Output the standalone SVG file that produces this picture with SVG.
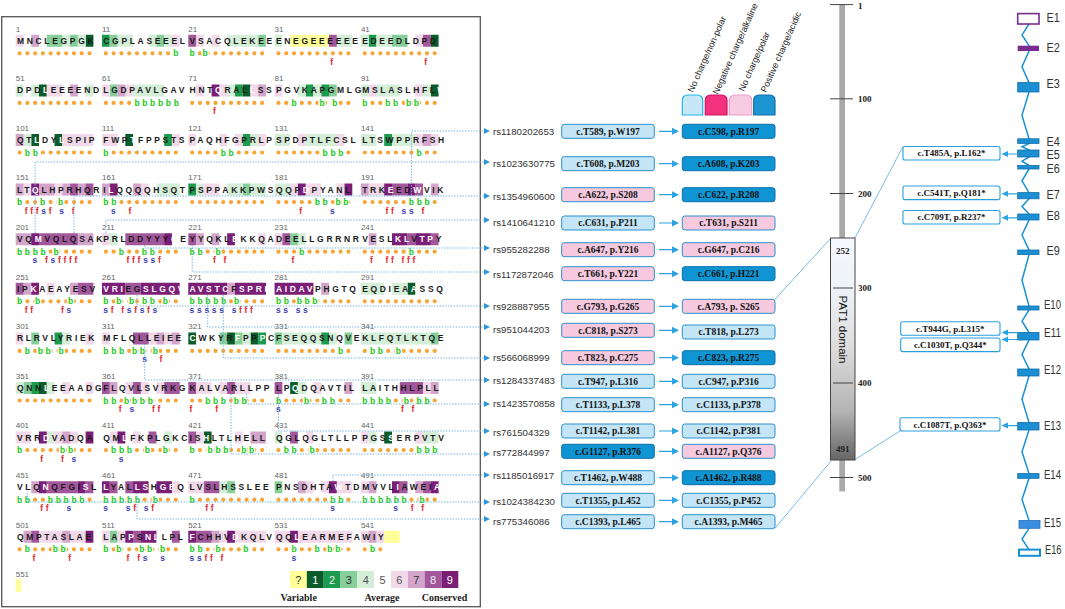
<svg xmlns="http://www.w3.org/2000/svg" width="1065" height="609" viewBox="0 0 1065 609">
<style>
text{font-family:"Liberation Sans",Arial,sans-serif}
.pn{font-family:"Liberation Mono",monospace;font-size:8px;fill:#666}
.r,.b,.f{font-family:"Liberation Mono",monospace;font-size:8.5px;font-weight:bold;letter-spacing:2.67px}
.r{fill:#1a1a1a}
.w{fill:#fff}
.b{fill:#19c919;stroke:#fff;stroke-width:3px;paint-order:stroke;stroke-linejoin:round}
.f{fill:#e3262b}
.s{fill:#3c3cb4}
.cg path{fill:none;stroke-width:.2419}
.g0{stroke:#ffff99}.g1{stroke:#0b5c2a}.g2{stroke:#1c9a4d}.g3{stroke:#86cf9b}.g4{stroke:#d4eed8}
.g6{stroke:#f1d9ea}.g7{stroke:#d3a5cb}.g8{stroke:#a2579c}.g9{stroke:#7a1e76}
.dots{fill:none;stroke:#f7a534;stroke-width:4.2;stroke-linecap:round;stroke-dasharray:0 7.77 0 7.77 0 7.77 0 7.77 0 7.77 0 7.77 0 7.77 0 7.77 0 7.77 0 16.37}
.con{fill:none;stroke:#72b3e1;stroke-width:1;stroke-dasharray:1.4 1.4}
.ah{fill:#2d95d8}
.rs{font-size:9.7px;fill:#333}
.bx{font-family:"Liberation Serif",serif;font-weight:bold;font-size:9.5px;text-anchor:middle;fill:#111}
.lb{fill:#c3e5f6;stroke:#2b8fcc;stroke-width:1}
.pk{fill:#f6c9df;stroke:#2b8fcc;stroke-width:1}
.db{fill:#0f95d4;stroke:#0b6ea8;stroke-width:1}
.sa{stroke:#2aa3e0;stroke-width:1.2;fill:none}
.saf{fill:#2aa3e0}
.ct{font-size:9px;fill:#222}
.tk{font-family:"Liberation Serif",serif;font-weight:bold;font-size:9px;fill:#222}
.nb{fill:#fff;stroke:#2a9fdc;stroke-width:1.1}
.nt{font-family:"Liberation Serif",serif;font-weight:bold;font-size:9px;text-anchor:middle;fill:#111}
.ex{fill:#1b8fd2;stroke:#136fa8;stroke-width:.8}
.el{font-size:12px;fill:#333}
.lg{font-size:11px;text-anchor:middle}
.lt{font-family:"Liberation Serif",serif;font-weight:bold;font-size:10px;text-anchor:middle;fill:#222}
</style>
<defs>
<linearGradient id="pg" x1="0" y1="0" x2="0" y2="1">
<stop offset="0" stop-color="#f6f9fd"/><stop offset=".22" stop-color="#eef3f8"/><stop offset=".5" stop-color="#dcdcdc"/><stop offset=".78" stop-color="#b4b4b4"/><stop offset="1" stop-color="#666"/>
</linearGradient>
</defs>
<rect width="1065" height="609" fill="#fff"/>

<g id="alignment">
<rect x="1.7" y="16.7" width="478.6" height="590" fill="none" stroke="#555" stroke-width="1.3"/>
<g id="cells" class="cg">
<g transform="translate(15.7 40.8) scale(7.77 49.6)">
<path class="g1" d="M9 0h1M3 1h1M2 2h1M5 2h1M3 7h1"/>
<path class="g2" d="M5 6h1M2 7h1"/>
<path class="g3" d="M4 0h2M7 0h1M2 6h1M1 7h1"/>
<path class="g4" d="M6 0h1M8 0h1M0 1h1M2 1h1M9 1h1M1 2h1M6 6h1M0 7h1M4 7h1M4 8h1"/>
<path class="g6" d="M0 0h1M4 1h2M6 2h4M1 3h1M5 3h1M4 5h1M0 6h1M9 6h1M6 7h1M9 7h1M0 8h2M5 8h1M7 8h1M3 10h3M7 10h2"/>
<path class="g7" d="M2 0h1M7 1h1M0 2h1M0 3h1M3 3h2M6 3h1M8 3h1M0 4h2M8 4h2M1 5h1M7 5h1M6 8h1M2 9h1M1 10h1M6 10h1"/>
<path class="g8" d="M7 3h1M9 3h1M3 4h5M0 5h1M8 5h2M4 9h4M9 9h1M2 10h1"/>
<path class="g9" d="M2 3h1M2 4h1M2 5h1M3 8h1M9 8h1M3 9h1M8 9h1M9 10h1"/>
</g>
<g transform="translate(102 40.8) scale(7.77 49.6)">
<path class="g1" d="M3 2h1"/>
<path class="g2" d="M0 0h1M8 2h1"/>
<path class="g3" d="M1 0h1M7 0h1M1 1h1M1 10h1"/>
<path class="g4" d="M2 0h2M6 0h1M8 0h1M4 1h4M7 3h3M1 4h1M8 8h1"/>
<path class="g6" d="M9 0h1M0 1h1M3 1h1M0 2h2M9 2h1M5 3h1M0 4h1M0 6h1M6 6h1M8 6h1M3 7h1M5 7h1M7 7h1M1 8h1M4 8h1M9 9h1M0 10h1M2 10h1"/>
<path class="g7" d="M2 1h1M0 3h1M4 3h1M7 6h1M9 6h1M1 7h1"/>
<path class="g8" d="M3 4h5M3 5h2M4 6h2M0 7h1M4 7h1M8 7h2M6 8h1M1 9h1M3 9h1M4 10h1M9 10h1"/>
<path class="g9" d="M1 3h1M8 4h1M0 5h3M5 5h5M2 8h1M0 9h1M4 9h2M7 9h2M3 10h1M5 10h2"/>
</g>
<g transform="translate(188.3 40.8) scale(7.77 49.6)">
<path class="g1" d="M7 1h1M0 6h1M5 6h1M8 6h1M2 8h1"/>
<path class="g2" d="M6 1h1M7 2h1M0 3h1M9 6h1"/>
<path class="g3" d="M9 0h1M7 3h1M4 6h1M6 6h1M5 9h1"/>
<path class="g4" d="M5 0h4M5 1h1M8 2h1M1 3h1M5 3h2M8 3h2M7 6h1M4 9h1"/>
<path class="g6" d="M1 0h1M3 0h1M1 1h1M4 1h1M8 1h1M0 2h1M4 2h1M6 2h1M9 2h1M2 3h2M9 4h1M1 7h2M4 7h1M6 7h2M1 8h1M6 8h1M0 9h2M4 10h1M6 10h4"/>
<path class="g7" d="M9 1h1M1 4h1M3 4h1M5 5h1M8 8h2M3 10h1"/>
<path class="g8" d="M0 0h1M0 4h1M0 7h1M5 7h1M0 8h1M2 9h2M1 10h2"/>
<path class="g9" d="M3 1h1M5 4h1M0 5h5M6 5h4M0 10h1M5 10h1"/>
</g>
<g transform="translate(274.6 40.8) scale(7.77 49.6)">
<path class="g0" d="M2 0h5"/>
<path class="g1" d="M2 7h1"/>
<path class="g2" d="M4 1h1M6 1h1M6 6h1"/>
<path class="g3" d="M7 1h1M2 4h1M0 6h1M9 6h1M0 9h1"/>
<path class="g4" d="M0 0h1M8 0h2M3 1h1M5 1h1M0 2h2M4 2h4M0 3h2M3 4h1M1 6h5M7 6h1M3 7h1M0 8h1"/>
<path class="g6" d="M0 1h1M3 2h1M8 2h1M2 3h1M4 3h2M8 3h1M0 4h1M5 7h1M4 8h1M4 9h1M6 9h1M8 9h2M0 10h2M3 10h7"/>
<path class="g7" d="M6 5h1M9 7h1M3 9h1"/>
<path class="g8" d="M7 0h1M1 4h1M0 7h1M2 8h1"/>
<path class="g9" d="M3 3h1M9 3h1M0 5h5M7 9h1M2 10h1"/>
</g>
<g transform="translate(360.9 40.8) scale(7.77 49.6)">
<path class="g0" d="M3 10h2"/>
<path class="g1" d="M9 0h1M9 1h1M6 5h1M3 8h1"/>
<path class="g2" d="M1 0h1M3 2h1"/>
<path class="g3" d="M4 0h2M9 6h1"/>
<path class="g4" d="M0 0h1M2 0h2M0 1h1M2 1h3M8 1h1M0 2h2M4 2h3M0 5h3M4 5h2M0 6h9M0 7h2M1 8h1M8 8h2"/>
<path class="g6" d="M7 0h1M1 1h1M7 1h1M7 2h1M9 2h1M1 3h2M8 7h1M0 8h1M7 8h1M0 9h1M0 10h1M2 10h1"/>
<path class="g7" d="M8 2h1M0 3h1M9 3h1M1 4h1M9 7h1M1 9h1M7 9h1M1 10h1"/>
<path class="g8" d="M8 0h1M4 3h2M7 3h1M6 4h1M9 4h1M5 7h3M5 9h1M8 9h1"/>
<path class="g9" d="M3 3h1M6 3h1M4 4h2M7 4h2M4 9h1M9 9h1"/>
</g>
<rect x="15.7" y="579" width="5.5" height="13" fill="#ffff99"/>
</g>

<g id="numbers" class="pn">
<text x="15.7" y="31.5">1</text><text x="102" y="31.5">11</text><text x="188.3" y="31.5">21</text><text x="274.6" y="31.5">31</text><text x="360.9" y="31.5">41</text>
<text x="15.7" y="81.1">51</text><text x="102" y="81.1">61</text><text x="188.3" y="81.1">71</text><text x="274.6" y="81.1">81</text><text x="360.9" y="81.1">91</text>
<text x="15.7" y="130.7">101</text><text x="102" y="130.7">111</text><text x="188.3" y="130.7">121</text><text x="274.6" y="130.7">131</text><text x="360.9" y="130.7">141</text>
<text x="15.7" y="180.3">151</text><text x="102" y="180.3">161</text><text x="188.3" y="180.3">171</text><text x="274.6" y="180.3">181</text><text x="360.9" y="180.3">191</text>
<text x="15.7" y="229.9">201</text><text x="102" y="229.9">211</text><text x="188.3" y="229.9">221</text><text x="274.6" y="229.9">231</text><text x="360.9" y="229.9">241</text>
<text x="15.7" y="279.5">251</text><text x="102" y="279.5">261</text><text x="188.3" y="279.5">271</text><text x="274.6" y="279.5">281</text><text x="360.9" y="279.5">291</text>
<text x="15.7" y="329.1">301</text><text x="102" y="329.1">311</text><text x="188.3" y="329.1">321</text><text x="274.6" y="329.1">331</text><text x="360.9" y="329.1">341</text>
<text x="15.7" y="378.7">351</text><text x="102" y="378.7">361</text><text x="188.3" y="378.7">371</text><text x="274.6" y="378.7">381</text><text x="360.9" y="378.7">391</text>
<text x="15.7" y="428.3">401</text><text x="102" y="428.3">411</text><text x="188.3" y="428.3">421</text><text x="274.6" y="428.3">431</text><text x="360.9" y="428.3">441</text>
<text x="15.7" y="477.9">451</text><text x="102" y="477.9">461</text><text x="188.3" y="477.9">471</text><text x="274.6" y="477.9">481</text><text x="360.9" y="477.9">491</text>
<text x="15.7" y="527.5">501</text><text x="102" y="527.5">511</text><text x="188.3" y="527.5">521</text><text x="274.6" y="527.5">531</text><text x="360.9" y="527.5">541</text>
<text x="15.7" y="577.1">551</text>
</g>

<g id="residues" class="r">
<text x="17" y="43.8">MNCLEGPGK<tspan class="w">T</tspan></text><text x="103.3" y="43.8">CGPLASEEEL</text><text x="189.6" y="43.8">VSACQLEKEE</text><text x="275.9" y="43.8">ENEGEEEEEE</text><text x="362.2" y="43.8">EDEEDLDPD<tspan class="w">L</tspan></text>
<text x="17" y="93.4">DPD<tspan class="w">L</tspan>EEEEND</text><text x="103.3" y="93.4">LGDPAVLGAV</text><text x="189.6" y="93.4">HNT<tspan class="w">Q</tspan>RAL<tspan class="w">L</tspan>SS</text><text x="275.9" y="93.4">PGVKAPGMLG</text><text x="362.2" y="93.4">MSLASLHFL<tspan class="w">W</tspan></text>
<text x="17" y="143">QT<tspan class="w">L</tspan>DY<tspan class="w">L</tspan>SPIP</text><text x="103.3" y="143">FWP<tspan class="w">T</tspan>FPPSTS</text><text x="189.6" y="143">PAQHFGPRLP</text><text x="275.9" y="143">SPDPTLFCSL</text><text x="362.2" y="143">LTSWPPRFSH</text>
<text x="17" y="192.6">LT<tspan class="w">Q</tspan>LHPRHQR</text><text x="103.3" y="192.6">I<tspan class="w">L</tspan>QQQQHSQT</text><text x="189.6" y="192.6">PSPPAKKPWS</text><text x="275.9" y="192.6">QQP<tspan class="w">D</tspan>PYANL<tspan class="w">M</tspan></text><text x="362.2" y="192.6">TRK<tspan class="w">E</tspan>ED<tspan class="w">W</tspan>VIK</text>
<text x="17" y="242.2">VQ<tspan class="w">M</tspan>VQLQSAK</text><text x="103.3" y="242.2">PRLDDYYY<tspan class="w">Q</tspan>E</text><text x="189.6" y="242.2">YYQKL<tspan class="w">E</tspan>KKQA</text><text x="275.9" y="242.2">DEELLGRRNR</text><text x="362.2" y="242.2">VESL<tspan class="w">KL</tspan>V<tspan class="w">TP</tspan>Y</text>
<text x="17" y="291.8">IP<tspan class="w">K</tspan>AEAYESV</text><text x="103.3" y="291.8"><tspan class="w">VRI</tspan>EG<tspan class="w">SLGQV</tspan></text><text x="189.6" y="291.8"><tspan class="w">AVSTC</tspan>F<tspan class="w">SPRR</tspan></text><text x="275.9" y="291.8"><tspan class="w">AIDAV</tspan>PHGTQ</text><text x="362.2" y="291.8">EQDIEA<tspan class="w">A</tspan>SSQ</text>
<text x="17" y="341.4">RLRVLYRIEK</text><text x="103.3" y="341.4">MFLQLLEIEE</text><text x="189.6" y="341.4"><tspan class="w">C</tspan>WKYR<tspan class="w">F</tspan>PP<tspan class="w">P</tspan>C</text><text x="275.9" y="341.4">FSEQQSNQVE</text><text x="362.2" y="341.4">KLFQTLKTQE</text>
<text x="17" y="391">QNN<tspan class="w">L</tspan>EEAADG</text><text x="103.3" y="391">FLQVLSVRKG</text><text x="189.6" y="391">KALVARLLPP</text><text x="275.9" y="391">LP<tspan class="w">Q</tspan>DQAVTIL</text><text x="362.2" y="391">LAITHHLPLL</text>
<text x="17" y="440.6">VRR<tspan class="w">D</tspan>VADQA<tspan class="w">L</tspan></text><text x="103.3" y="440.6">QM<tspan class="w">L</tspan>FKPLGKC</text><text x="189.6" y="440.6">IS<tspan class="w">H</tspan>LTLHELL</text><text x="275.9" y="440.6">QGLQGLTLLP</text><text x="362.2" y="440.6">PGS<tspan class="w">S</tspan>ERPVTV</text>
<text x="17" y="490.2">VLQ<tspan class="w">N</tspan>QFGI<tspan class="w">S</tspan>L</text><text x="103.3" y="490.2"><tspan class="w">L</tspan>YAL<tspan class="w">LS</tspan>H<tspan class="w">GE</tspan>Q</text><text x="189.6" y="490.2">LVSLHSSLEE</text><text x="275.9" y="490.2">PNSDHTA<tspan class="w">W</tspan>TD</text><text x="362.2" y="490.2">MVVL<tspan class="w">I</tspan>AWEI<tspan class="w">A</tspan></text>
<text x="17" y="539.8">QMPTASLAE<tspan class="w">P</tspan></text><text x="103.3" y="539.8">LAP<tspan class="w">P</tspan>S<tspan class="w">NL</tspan>LPL</text><text x="189.6" y="539.8"><tspan class="w">F</tspan>CHHV<tspan class="w">D</tspan>KQLV</text><text x="275.9" y="539.8">QQ<tspan class="w">L</tspan>EARMEFA</text><text x="362.2" y="539.8">WIY</text>
</g>

<path id="dots" class="dots" d="M19.585 53.3h415.2M19.585 102.9h415.2M19.585 152.5h415.2M19.585 202.1h415.2M19.585 251.7h415.2M19.585 301.3h415.2M19.585 350.9h415.2M19.585 400.5h415.2M19.585 450.1h415.2M19.585 499.7h415.2M19.585 549.3h360.8"/>

<g id="buried" class="b">
<text x="173.23" y="56.3">b</text><text x="189.6" y="56.3">b&#160;b</text>
<text x="134.38" y="105.9">bbbbbb</text><text x="291.44" y="105.9">b&#160;&#160;&#160;&#160;b&#160;b</text><text x="362.2" y="105.9">b&#160;&#160;&#160;bb&#160;bb</text>
<text x="24.77" y="155.5">bb</text><text x="103.3" y="155.5">b</text><text x="220.68" y="155.5">bb</text><text x="322.52" y="155.5">bbb</text><text x="416.59" y="155.5">b</text>
<text x="17" y="205.1">b&#160;&#160;&#160;b&#160;&#160;b</text><text x="103.3" y="205.1">bb</text><text x="314.75" y="205.1">bb&#160;bb</text><text x="408.82" y="205.1">bbb</text>
<text x="17" y="254.7">bbbb&#160;b</text><text x="118.84" y="254.7">b&#160;&#160;&#160;bb</text><text x="189.6" y="254.7">bb&#160;&#160;b</text><text x="299.21" y="254.7">b</text><text x="408.82" y="254.7">b</text>
<text x="17" y="304.3">b&#160;&#160;b&#160;&#160;&#160;&#160;&#160;b</text><text x="103.3" y="304.3">b&#160;b&#160;b&#160;bb&#160;b</text><text x="189.6" y="304.3">bbbbb&#160;b</text><text x="275.9" y="304.3">bb&#160;bbb</text>
<text x="24.77" y="353.9">b&#160;bb&#160;b</text><text x="103.3" y="353.9">bbb&#160;bb&#160;b</text><text x="338.06" y="353.9">b</text><text x="369.97" y="353.9">bb&#160;&#160;b</text>
<text x="103.3" y="403.5">bb&#160;bbbb</text><text x="205.14" y="403.5">bbb&#160;bb</text><text x="275.9" y="403.5">b&#160;&#160;&#160;&#160;b&#160;&#160;bb</text><text x="362.2" y="403.5">bbbb&#160;&#160;b&#160;bb</text>
<text x="17" y="453.1">b&#160;&#160;&#160;&#160;&#160;&#160;&#160;bb</text><text x="111.07" y="453.1">bbb&#160;&#160;b&#160;&#160;b</text><text x="189.6" y="453.1">b&#160;&#160;bbb&#160;&#160;bb</text><text x="283.67" y="453.1">bb&#160;&#160;b</text><text x="416.59" y="453.1">bbb</text>
<text x="17" y="502.7">bb&#160;&#160;&#160;bbbbb</text><text x="103.3" y="502.7">bbbbb&#160;&#160;b</text><text x="189.6" y="502.7">b</text><text x="330.29" y="502.7">bb</text><text x="362.2" y="502.7">bbbbbb&#160;&#160;b</text>
<text x="24.77" y="552.3">b&#160;&#160;&#160;&#160;bb</text><text x="103.3" y="552.3">b&#160;b&#160;&#160;&#160;bb&#160;b</text><text x="189.6" y="552.3">bb&#160;&#160;b&#160;&#160;&#160;&#160;b</text><text x="291.44" y="552.3">b&#160;&#160;&#160;b&#160;bb</text><text x="369.97" y="552.3">b</text>
</g>

<g id="fs" class="f">
<text x="330.29" y="64.8">f</text><text x="424.36" y="64.8">f</text>
<text x="212.91" y="114.4">f</text>
<text x="24.77" y="213.6">fff<tspan class="s">s</tspan>f&#160;<tspan class="s">s</tspan>&#160;f</text><text x="111.07" y="213.6"><tspan class="s">s</tspan>&#160;&#160;f</text><text x="299.21" y="213.6">f&#160;&#160;&#160;&#160;&#160;<tspan class="s">s</tspan></text><text x="385.51" y="213.6">ff&#160;<tspan class="s">ss</tspan>&#160;f</text>
<text x="32.54" y="263.2"><tspan class="s">s</tspan>&#160;f<tspan class="s">s</tspan>ffff</text><text x="126.61" y="263.2">fff<tspan class="s">ss</tspan>f</text><text x="212.91" y="263.2">f&#160;f</text><text x="291.44" y="263.2">f</text><text x="369.97" y="263.2">f&#160;&#160;ff&#160;fff</text>
<text x="24.77" y="312.8">ff&#160;&#160;&#160;&#160;&#160;f<tspan class="s">s</tspan></text><text x="103.3" y="312.8"><tspan class="s">s</tspan>f&#160;f<tspan class="s">s</tspan>f<tspan class="s">s</tspan>f<tspan class="s">s</tspan></text><text x="189.6" y="312.8"><tspan class="s">sssss</tspan>&#160;<tspan class="s">s</tspan>fff</text><text x="275.9" y="312.8"><tspan class="s">ss&#160;ss</tspan></text>
<text x="142.15" y="362.4"><tspan class="s">s</tspan>&#160;&#160;f</text>
<text x="118.84" y="412">f&#160;<tspan class="s">s</tspan>&#160;&#160;&#160;ff</text><text x="189.6" y="412">f&#160;&#160;&#160;&#160;f</text><text x="275.9" y="412"><tspan class="s">s</tspan></text><text x="401.05" y="412">f&#160;f</text>
<text x="40.31" y="461.6">f&#160;&#160;&#160;f&#160;<tspan class="s">s</tspan></text><text x="118.84" y="461.6"><tspan class="s">s</tspan></text>
<text x="40.31" y="511.2">ff&#160;&#160;&#160;<tspan class="s">s</tspan></text><text x="103.3" y="511.2"><tspan class="s">s</tspan>&#160;&#160;&#160;<tspan class="s">s</tspan>f&#160;<tspan class="s">s</tspan>f</text><text x="205.14" y="511.2">ff</text><text x="330.29" y="511.2"><tspan class="s">s</tspan></text><text x="393.28" y="511.2"><tspan class="s">s</tspan>&#160;&#160;f&#160;f</text>
<text x="32.54" y="560.8">f&#160;&#160;&#160;&#160;&#160;&#160;f</text><text x="126.61" y="560.8">f&#160;f<tspan class="s">s</tspan>&#160;&#160;<tspan class="s">s</tspan></text><text x="189.6" y="560.8"><tspan class="s">ss</tspan>ff&#160;f</text><text x="291.44" y="560.8"><tspan class="s">s</tspan></text>
</g>

<g id="legend">
<rect x="290" y="571" width="16.83" height="17" fill="#ffff99"/>
<rect x="306.83" y="571" width="16.83" height="17" fill="#0b5c2a"/>
<rect x="323.66" y="571" width="16.83" height="17" fill="#1c9a4d"/>
<rect x="340.49" y="571" width="16.83" height="17" fill="#86cf9b"/>
<rect x="357.32" y="571" width="16.83" height="17" fill="#d4eed8"/>
<rect x="374.15" y="571" width="16.83" height="17" fill="#fff"/>
<rect x="390.98" y="571" width="16.83" height="17" fill="#f1d9ea"/>
<rect x="407.81" y="571" width="16.83" height="17" fill="#d3a5cb"/>
<rect x="424.64" y="571" width="16.83" height="17" fill="#a2579c"/>
<rect x="441.47" y="571" width="16.83" height="17" fill="#7a1e76"/>
<text class="lg" x="298.4" y="583.8" fill="#333">?</text>
<text class="lg" x="315.2" y="583.8" fill="#fff">1</text>
<text class="lg" x="332.1" y="583.8" fill="#eee">2</text>
<text class="lg" x="348.9" y="583.8" fill="#333">3</text>
<text class="lg" x="365.7" y="583.8" fill="#555">4</text>
<text class="lg" x="382.6" y="583.8" fill="#555">5</text>
<text class="lg" x="399.4" y="583.8" fill="#555">6</text>
<text class="lg" x="416.2" y="583.8" fill="#333">7</text>
<text class="lg" x="433.1" y="583.8" fill="#eee">8</text>
<text class="lg" x="449.9" y="583.8" fill="#fff">9</text>
<text class="lt" x="298.7" y="601">Variable</text>
<text class="lt" x="382" y="601">Average</text>
<text class="lt" x="444.5" y="601">Conserved</text>
</g>
</g>

<g id="connectors">
<path class="con" d="M411.4 195V131H484M35.1 233V162H484M74 233V196H484M105.9 233V220H484M144.7 245V248H484M192.2 245V272H484M137 295V306H484M207.7 295V327H484M223.3 295V358H484M144.7 344V380H484M246.6 394V404H484M278.5 394V431H484M231 394V454H484M332.9 481V475H484M27.4 493V502H484M137 493V519H484"/>
<path class="ah" d="M484 128l6 3-6 3zM484 159l6 3-6 3zM484 193l6 3-6 3zM484 217l6 3-6 3zM484 245l6 3-6 3zM484 269l6 3-6 3zM484 303l6 3-6 3zM484 324l6 3-6 3zM484 355l6 3-6 3zM484 377l6 3-6 3zM484 401l6 3-6 3zM484 428l6 3-6 3zM484 451l6 3-6 3zM484 472l6 3-6 3zM484 499l6 3-6 3zM484 516l6 3-6 3z"/>
<path class="sa" d="M659 131.3H673M659 163.7H673M659 194.7H673M659 223H673M659 249.7H673M659 273.7H673M659 306.3H673M659 330.3H673M659 357.7H673M659 381.3H673M659 404.7H673M659 431H673M659 451.3H673M659 477.7H673M659 500.3H673M659 521.7H673"/>
<path class="saf" d="M672 127.8l7 3.5-7 3.5zM672 160.2l7 3.5-7 3.5zM672 191.2l7 3.5-7 3.5zM672 219.5l7 3.5-7 3.5zM672 246.2l7 3.5-7 3.5zM672 270.2l7 3.5-7 3.5zM672 302.8l7 3.5-7 3.5zM672 326.8l7 3.5-7 3.5zM672 354.2l7 3.5-7 3.5zM672 377.8l7 3.5-7 3.5zM672 401.2l7 3.5-7 3.5zM672 427.5l7 3.5-7 3.5zM672 447.8l7 3.5-7 3.5zM672 474.2l7 3.5-7 3.5zM672 496.8l7 3.5-7 3.5zM672 518.2l7 3.5-7 3.5z"/>
<path fill="none" stroke="#6ab3e3" stroke-width=".9" d="M775 299.3L831 238M775 528.3L831 461M855 238L903 146.5M855 459.5L900 431"/>
<path class="sa" d="M1017 154H1007M1017 193.8H1007M1017 217.8H1007M1017 332.6H1007M1017 339.5H1007M1017 425.6H1007"/>
<path class="saf" d="M1001.5 154l6.5-3v6zM1001.5 193.8l6.5-3v6zM1001.5 217.8l6.5-3v6zM1001.5 332.6l6.5-3v6zM1001.5 339.5l6.5-3v6zM1001.5 425.6l6.5-3v6z"/>
</g>

<g id="charge-legend">
<path d="M682.3 115V100a5 5 0 0 1 5-5H697.7a5 5 0 0 1 5 5V115Z" fill="#c5e7f7" stroke="#22b5ec" stroke-width="1.2"/>
<path d="M705.3 115V100a5 5 0 0 1 5-5H722a5 5 0 0 1 5 5V115Z" fill="#f2317f" stroke="#c81a60" stroke-width="1.2"/>
<path d="M729.3 115V100a5 5 0 0 1 5-5H746.7a5 5 0 0 1 5 5V115Z" fill="#f7cbe2" stroke="#f0a0c8" stroke-width="1.2"/>
<path d="M753.7 115V100a5 5 0 0 1 5-5H770a5 5 0 0 1 5 5V115Z" fill="#1d95d3" stroke="#146fa8" stroke-width="1.2"/>
<text class="ct" transform="translate(693 93) rotate(-66)">No charge/non-polar</text>
<text class="ct" transform="translate(718 95) rotate(-66)">Negative charge/alkaline</text>
<text class="ct" transform="translate(744 92) rotate(-66)">No charge/polar</text>
<text class="ct" transform="translate(766 93) rotate(-66)">Positive charge/acidic</text>
</g>

<g id="variants">
<g id="v1"><text class="rs" x="493" y="134.5">rs1180202653</text><rect class="lb" x="561.7" y="124.3" width="92.6" height="14" rx="2.5"/><rect class="db" x="682.3" y="124.3" width="92.7" height="14" rx="2.5"/><text class="bx" x="608" y="134.7">c.T589, p.W197</text><text class="bx" x="728.6" y="134.7">c.C598, p.R197</text></g>
<g id="v2"><text class="rs" x="493" y="166.5">rs1023630775</text><rect class="lb" x="561.7" y="156.7" width="92.6" height="14" rx="2.5"/><rect class="db" x="682.3" y="156.7" width="92.7" height="14" rx="2.5"/><text class="bx" x="608" y="167.1">c.T608, p.M203</text><text class="bx" x="728.6" y="167.1">c.A608, p.K203</text></g>
<g id="v3"><text class="rs" x="493" y="200.2">rs1354960600</text><rect class="pk" x="561.7" y="187.7" width="92.6" height="14" rx="2.5"/><rect class="db" x="682.3" y="187.7" width="92.7" height="14" rx="2.5"/><text class="bx" x="608" y="198.1">c.A622, p.S208</text><text class="bx" x="728.6" y="198.1">c.C622, p.R208</text></g>
<g id="v4"><text class="rs" x="493" y="226.2">rs1410641210</text><rect class="lb" x="561.7" y="216" width="92.6" height="14" rx="2.5"/><rect class="pk" x="682.3" y="216" width="92.7" height="14" rx="2.5"/><text class="bx" x="608" y="226.4">c.C631, p.P211</text><text class="bx" x="728.6" y="226.4">c.T631, p.S211</text></g>
<g id="v5"><text class="rs" x="493" y="252.8">rs955282288</text><rect class="pk" x="561.7" y="242.7" width="92.6" height="14" rx="2.5"/><rect class="pk" x="682.3" y="242.7" width="92.7" height="14" rx="2.5"/><text class="bx" x="608" y="253.1">c.A647, p.Y216</text><text class="bx" x="728.6" y="253.1">c.G647, p.C216</text></g>
<g id="v6"><text x="493" y="277.5" font-family="Liberation Serif,serif" font-size="9.6" fill="#333">rs1172872046</text><rect class="pk" x="561.7" y="266.7" width="92.6" height="14" rx="2.5"/><rect class="db" x="682.3" y="266.7" width="92.7" height="14" rx="2.5"/><text class="bx" x="608" y="277.1">c.T661, p.Y221</text><text class="bx" x="728.6" y="277.1">c.C661, p.H221</text></g>
<g id="v7"><text class="rs" x="493" y="309.5">rs928887955</text><rect class="pk" x="561.7" y="299.3" width="92.6" height="14" rx="2.5"/><rect class="pk" x="682.3" y="299.3" width="92.7" height="14" rx="2.5"/><text class="bx" x="608" y="309.7">c.G793, p.G265</text><text class="bx" x="728.6" y="309.7">c.A793, p. S265</text></g>
<g id="v8"><text class="rs" x="493" y="332.8">rs951044203</text><rect class="pk" x="561.7" y="323.3" width="92.6" height="14" rx="2.5"/><rect class="lb" x="682.3" y="325" width="92.7" height="14" rx="2.5"/><text class="bx" x="608" y="333.7">c.C818, p.S273</text><text class="bx" x="728.6" y="335.4">c.T818, p.L273</text></g>
<g id="v9"><text class="rs" x="493" y="361.2">rs566068999</text><rect class="pk" x="561.7" y="350.7" width="92.6" height="14" rx="2.5"/><rect class="db" x="682.3" y="350.7" width="92.7" height="14" rx="2.5"/><text class="bx" x="608" y="361.1">c.T823, p.C275</text><text class="bx" x="728.6" y="361.1">c.C823, p.R275</text></g>
<g id="v10"><text class="rs" x="493" y="384.2">rs1284337483</text><rect class="lb" x="561.7" y="374.3" width="92.6" height="14" rx="2.5"/><rect class="lb" x="682.3" y="374.3" width="92.7" height="14" rx="2.5"/><text class="bx" x="608" y="384.7">c.T947, p.L316</text><text class="bx" x="728.6" y="384.7">c.C947, p.P316</text></g>
<g id="v11"><text class="rs" x="493" y="406.8">rs1423570858</text><rect class="lb" x="561.7" y="397.7" width="92.6" height="14" rx="2.5"/><rect class="lb" x="682.3" y="397.7" width="92.7" height="14" rx="2.5"/><text class="bx" x="608" y="408.1">c.T1133, p.L378</text><text class="bx" x="728.6" y="408.1">c.C1133, p.P378</text></g>
<g id="v12"><text class="rs" x="493" y="436.2">rs761504329</text><rect class="lb" x="561.7" y="424" width="92.6" height="14" rx="2.5"/><rect class="lb" x="682.3" y="424" width="92.7" height="14" rx="2.5"/><text class="bx" x="608" y="434.4">c.T1142, p.L381</text><text class="bx" x="728.6" y="434.4">c.C1142, p.P381</text></g>
<g id="v13"><text class="rs" x="493" y="456.2">rs772844997</text><rect class="db" x="561.7" y="444.3" width="92.6" height="14" rx="2.5"/><rect class="pk" x="682.3" y="444.3" width="92.7" height="14" rx="2.5"/><text class="bx" x="608" y="454.7">c.G1127, p.R376</text><text class="bx" x="728.6" y="454.7">c.A1127, p.Q376</text></g>
<g id="v14"><text class="rs" x="493" y="479.2">rs1185016917</text><rect class="lb" x="561.7" y="470.7" width="92.6" height="14" rx="2.5"/><rect class="db" x="682.3" y="470.7" width="92.7" height="14" rx="2.5"/><text class="bx" x="608" y="481.1">c.T1462, p.W488</text><text class="bx" x="728.6" y="481.1">c.A1462, p.R488</text></g>
<g id="v15"><text class="rs" x="493" y="505.2">rs1024384230</text><rect class="lb" x="561.7" y="493.3" width="92.6" height="14" rx="2.5"/><rect class="lb" x="682.3" y="493.3" width="92.7" height="14" rx="2.5"/><text class="bx" x="608" y="503.7">c.T1355, p.L452</text><text class="bx" x="728.6" y="503.7">c.C1355, p.P452</text></g>
<g id="v16"><text class="rs" x="493" y="524.8">rs775346086</text><rect class="lb" x="561.7" y="514.7" width="92.6" height="14" rx="2.5"/><rect class="lb" x="682.3" y="514.7" width="92.7" height="14" rx="2.5"/><text class="bx" x="608" y="525.1">c.C1393, p.L465</text><text class="bx" x="728.6" y="525.1">c.A1393, p.M465</text></g>
</g>

<g id="protein">
<rect x="839.3" y="4.6" width="5.7" height="486.8" fill="#a8a8a8"/>
<rect x="830.5" y="238" width="24.5" height="222" fill="url(#pg)" stroke="#444" stroke-width="1"/>
<path d="M830 4.6h23M830 98.8h23M830 193.5h23M833 288h20M833 383h20M830 477.5h23" stroke="#444" stroke-width="1"/>
<text class="tk" x="858" y="9">1</text>
<text class="tk" x="858" y="101.8">100</text>
<text class="tk" x="858" y="196.5">200</text>
<text class="tk" x="858" y="291">300</text>
<text class="tk" x="858" y="386">400</text>
<text class="tk" x="858" y="480.5">500</text>
<text class="tk" x="842.7" y="253.5" text-anchor="middle" font-size="8">252</text>
<text class="tk" x="842.7" y="452" text-anchor="middle" font-size="8">491</text>
<text transform="translate(838.5 329.5) rotate(90)" text-anchor="middle" font-size="11.5" fill="#111">PAT1 domain</text>
</g>

<g id="nonsense">
<g id="n1"><rect class="nb" x="903" y="146.5" width="97" height="13.5" rx="2"/><text class="nt" x="951.5" y="156.4">c.T485A, p.L162*</text></g>
<g id="n2"><rect class="nb" x="903" y="186" width="97" height="13.6" rx="2"/><text class="nt" x="951.5" y="196">c.C541T, p.Q181*</text></g>
<g id="n3"><rect class="nb" x="903" y="210.5" width="97" height="13.5" rx="2"/><text class="nt" x="951.5" y="220.4">c.C709T, p.R237*</text></g>
<g id="n4"><rect class="nb" x="900.7" y="321.7" width="99.3" height="13.6" rx="2"/><text class="nt" x="950.3" y="331.7">c.T944G, p.L315*</text></g>
<g id="n5"><rect class="nb" x="900.7" y="338" width="99.3" height="13.6" rx="2"/><text class="nt" x="950.3" y="348">c.C1030T, p.Q344*</text></g>
<g id="n6"><rect class="nb" x="900" y="417.8" width="100" height="13.2" rx="2"/><text class="nt" x="950" y="427.6">c.C1087T, p.Q363*</text></g>
</g>

<g id="exons">
<polyline fill="none" stroke="#1a90d6" stroke-width="1.5" points="1029,18 1029,24 1022,34.9 1029,45.7 1029,51 1022,66.8 1029,82.6 1029,92 1022,115.4 1029,138.8 1029,143.4 1022,146.7 1029,150 1029,157 1022,161.2 1029,165.5 1029,169 1022,180.8 1029,192.6 1029,198.8 1022,206.4 1029,214 1029,220 1022,235 1029,250 1029,254.6 1022,280.3 1029,306 1029,310 1022,321.2 1029,332.5 1029,340 1022,354.5 1029,369 1029,376 1022,399.2 1029,422.5 1029,430 1022,451.8 1029,473.6 1029,478.3 1022,499.4 1029,520.5 1029,528.3 1022,539 1029,549.6"/>
<rect x="1017.7" y="13.6" width="21.3" height="10.4" fill="#fff" stroke="#7a2b8f" stroke-width="1.6"/>
<rect x="1017.7" y="45.7" width="21.3" height="5.3" fill="#7a2b8f"/>
<rect class="ex" x="1017.7" y="82.6" width="21.3" height="9.4"/>
<rect class="ex" x="1017.7" y="138.8" width="21.3" height="4.6"/>
<rect class="ex" x="1017.7" y="150" width="21.3" height="7"/>
<rect class="ex" x="1017.7" y="165.5" width="21.3" height="3.5"/>
<rect class="ex" x="1017.7" y="192.6" width="21.3" height="6.2"/>
<rect class="ex" x="1017.7" y="214" width="21.3" height="6"/>
<rect class="ex" x="1017.7" y="250" width="21.3" height="4.6"/>
<rect class="ex" x="1017.7" y="306" width="21.3" height="4"/>
<rect class="ex" x="1017.7" y="332.5" width="21.3" height="7.5"/>
<rect class="ex" x="1017.7" y="369" width="21.3" height="7"/>
<rect class="ex" x="1017.7" y="422.5" width="21.3" height="7.5"/>
<rect class="ex" x="1017.7" y="473.6" width="21.3" height="4.7"/>
<rect x="1019" y="520.5" width="21" height="7.8" fill="#3b8de0" stroke="#2a72bd" stroke-width=".8"/>
<rect x="1019" y="549.6" width="21" height="6.2" fill="#fff" stroke="#1a8fd6" stroke-width="2"/>
<text class="el" x="1046.5" y="22.2" textLength="13.3" lengthAdjust="spacingAndGlyphs">E1</text>
<text class="el" x="1046.5" y="52.4" textLength="13.3" lengthAdjust="spacingAndGlyphs">E2</text>
<text class="el" x="1046.5" y="88.1" textLength="13.3" lengthAdjust="spacingAndGlyphs">E3</text>
<text class="el" x="1046.5" y="145.5" textLength="13.3" lengthAdjust="spacingAndGlyphs">E4</text>
<text class="el" x="1046.5" y="159" textLength="13.3" lengthAdjust="spacingAndGlyphs">E5</text>
<text class="el" x="1046.5" y="173.4" textLength="13.3" lengthAdjust="spacingAndGlyphs">E6</text>
<text class="el" x="1046.5" y="199" textLength="13.3" lengthAdjust="spacingAndGlyphs">E7</text>
<text class="el" x="1046.5" y="220" textLength="13.3" lengthAdjust="spacingAndGlyphs">E8</text>
<text class="el" x="1046.5" y="255" textLength="13.3" lengthAdjust="spacingAndGlyphs">E9</text>
<text class="el" x="1044" y="309.4" textLength="17" lengthAdjust="spacingAndGlyphs">E10</text>
<text class="el" x="1044" y="337.3" textLength="17" lengthAdjust="spacingAndGlyphs">E11</text>
<text class="el" x="1044" y="374" textLength="17" lengthAdjust="spacingAndGlyphs">E12</text>
<text class="el" x="1044" y="429.6" textLength="17" lengthAdjust="spacingAndGlyphs">E13</text>
<text class="el" x="1044" y="478.8" textLength="17" lengthAdjust="spacingAndGlyphs">E14</text>
<text class="el" x="1044" y="527.3" textLength="17" lengthAdjust="spacingAndGlyphs">E15</text>
<text class="el" x="1045" y="554.4" textLength="16.5" lengthAdjust="spacingAndGlyphs">E16</text>
</g>
</svg>
